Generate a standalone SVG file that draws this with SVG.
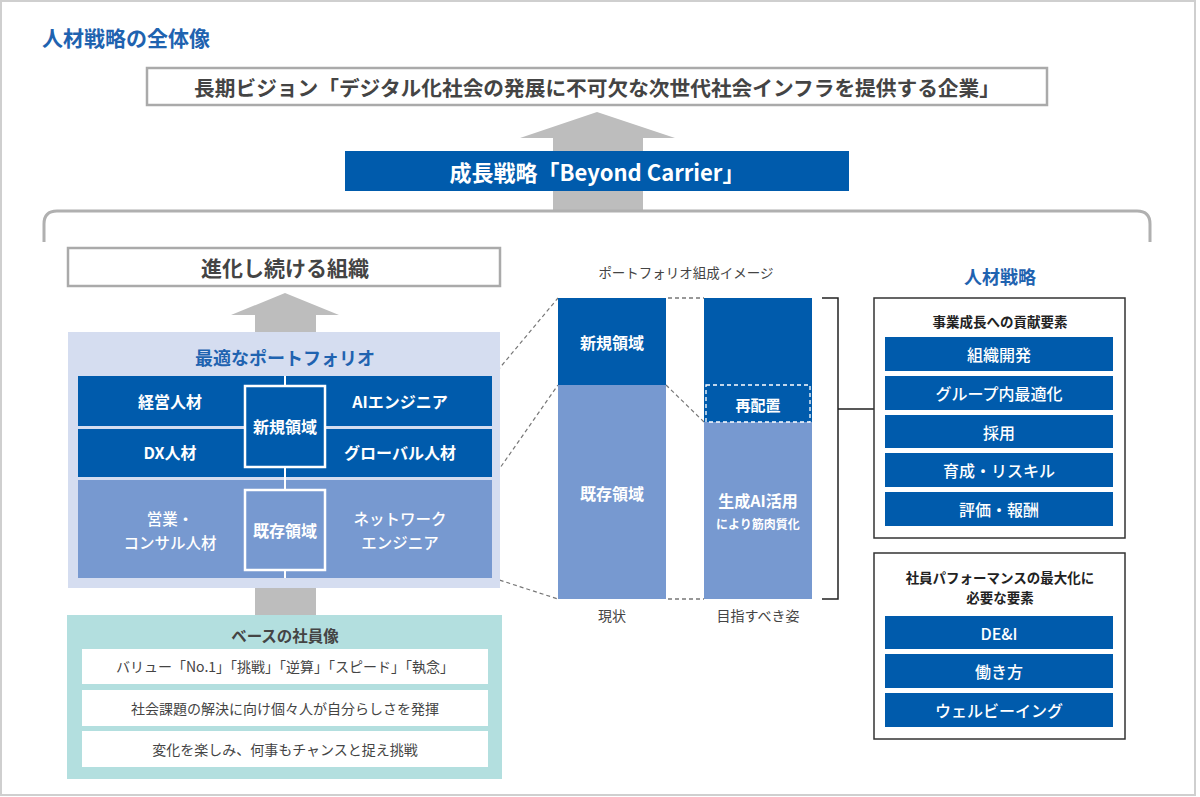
<svg xmlns="http://www.w3.org/2000/svg" width="1200" height="797" viewBox="0 0 1200 797">
<style>
text{font-family:"Noto Sans CJK JP","Noto Sans",sans-serif;text-anchor:middle;dominant-baseline:central}
.b{font-weight:bold}
.w{fill:#fff}
.g{fill:#444}
.bl{fill:#1f63b0}
.dk{fill:#005bac}
.lt{fill:#7799d0}
.arrow{fill:#bdbdbd}
.dash{stroke:#777;stroke-width:1.2;stroke-dasharray:4 3;fill:none}
.dashk{stroke:#333;stroke-width:1.2;stroke-dasharray:4 3;fill:none}
</style>
<rect x="1" y="1" width="1194" height="794" fill="#fff" stroke="#cfcfcf" stroke-width="2"/>
<text x="42" y="37" class="b bl" style="text-anchor:start;font-size:21px">人材戦略の全体像</text>

<g id="vision">
<rect x="147" y="68" width="900" height="37" fill="#fff" stroke="#aaa" stroke-width="2.5"/>
<text x="597" y="87" class="b g" style="font-size:20.7px">長期ビジョン「デジタル化社会の発展に不可欠な次世代社会インフラを提供する企業」</text>
</g>

<g id="connectors">
<polygon class="arrow" points="597,112 675,138 643,138 643,212 553,212 553,138 520,138"/>
<path d="M44,242 V224 Q44,211 57,211 H1137 Q1150,211 1150,224 V242" fill="none" stroke="#b0b0b0" stroke-width="3"/>
<polygon class="arrow" points="285,293 339,315 316,315 316,333 255,333 255,315 231,315"/>
<rect class="arrow" x="255" y="588" width="61" height="28"/>
<line class="dash" x1="493" y1="376" x2="558" y2="298"/>
<line class="dash" x1="493" y1="478" x2="558" y2="385"/>
<line class="dash" x1="493" y1="578" x2="558" y2="599"/>
<line class="dash" x1="666" y1="385" x2="704" y2="422"/>
<line class="dashk" x1="668" y1="298" x2="704" y2="298"/>
<line class="dashk" x1="668" y1="599" x2="704" y2="599"/>
<path d="M822,298 H838 V599 H822 M838,409 H874" fill="none" stroke="#222" stroke-width="1.5"/>
</g>

<g id="growth">
<rect x="345" y="151" width="504" height="40" class="dk"/>
<text x="597" y="171" class="b w" style="font-size:22px">成長戦略「Beyond Carrier」</text>
</g>

<g id="org">
<rect x="68" y="248" width="432" height="38" fill="#fff" stroke="#aaa" stroke-width="2.5"/>
<text x="285" y="267" class="b g" style="font-size:21px">進化し続ける組織</text>
</g>

<g id="portfolio">
<rect x="68" y="332" width="432" height="256" fill="#d5ddf0"/>
<text x="285" y="357" class="b bl" style="font-size:18px">最適なポートフォリオ</text>
<rect x="78" y="376" width="414" height="50" class="dk"/>
<rect x="78" y="429" width="414" height="48" class="dk"/>
<rect x="78" y="480" width="414" height="98" class="lt"/>
<line x1="285" y1="376" x2="285" y2="578" stroke="#fff" stroke-width="2"/>
<rect x="245" y="386" width="80" height="81" class="dk" stroke="#fff" stroke-width="2.5"/>
<rect x="245" y="490" width="80" height="80" class="lt" stroke="#fff" stroke-width="2.5"/>
<text x="170" y="401" class="b w" style="font-size:16px">経営人材</text>
<text x="400" y="401" class="b w" style="font-size:16px">AIエンジニア</text>
<text x="170" y="452" class="b w" style="font-size:16px">DX人材</text>
<text x="400" y="452" class="b w" style="font-size:16px">グローバル人材</text>
<text x="285" y="426" class="b w" style="font-size:16px">新規領域</text>
<text x="170" y="518" class="w" style="font-size:15.5px;font-weight:500">営業・</text>
<text x="170" y="542" class="w" style="font-size:15.5px;font-weight:500">コンサル人材</text>
<text x="400" y="518" class="w" style="font-size:15.5px;font-weight:500">ネットワーク</text>
<text x="400" y="542" class="w" style="font-size:15.5px;font-weight:500">エンジニア</text>
<text x="285" y="530" class="b w" style="font-size:16px">既存領域</text>
</g>

<g id="base">
<rect x="67" y="615" width="435" height="164" fill="#b3dfdf"/>
<text x="285" y="635" class="b g" style="font-size:15.5px">ベースの社員像</text>
<rect x="82" y="649" width="406" height="35" fill="#fff"/>
<rect x="82" y="690" width="406" height="36" fill="#fff"/>
<rect x="82" y="731" width="406" height="36" fill="#fff"/>
<text x="285" y="666" class="g" style="font-size:14px">バリュー「No.1」「挑戦」「逆算」「スピード」「執念」</text>
<text x="285" y="708" class="g" style="font-size:14px">社会課題の解決に向け個々人が自分らしさを発揮</text>
<text x="285" y="749" class="g" style="font-size:14px">変化を楽しみ、何事もチャンスと捉え挑戦</text>
</g>

<g id="image">
<text x="686" y="272" class="g" style="font-size:13.5px">ポートフォリオ組成イメージ</text>
<rect x="558" y="298" width="108" height="87" class="dk"/>
<rect x="558" y="385" width="108" height="214" class="lt"/>
<text x="612" y="342" class="b w" style="font-size:16px">新規領域</text>
<text x="612" y="493" class="b w" style="font-size:16px">既存領域</text>
<rect x="704" y="298" width="108" height="124" class="dk"/>
<rect x="704" y="422" width="108" height="177" class="lt"/>
<rect x="706" y="385" width="104" height="37" fill="none" stroke="#fff" stroke-width="1.3" stroke-dasharray="4 3"/>
<text x="758" y="404" class="b w" style="font-size:15px">再配置</text>
<text x="758" y="500" class="b w" style="font-size:16px">生成AI活用</text>
<text x="758" y="523" class="b w" style="font-size:12px">により筋肉質化</text>
<text x="612" y="615" class="g" style="font-size:14px">現状</text>
<text x="758" y="615" class="g" style="font-size:14px">目指すべき姿</text>
</g>

<g id="strategy">
<text x="1000" y="276" class="b bl" style="font-size:18px">人材戦略</text>
<rect x="874" y="298" width="251" height="240" fill="#fff" stroke="#333" stroke-width="1.5"/>
<text x="1000" y="321" class="b" style="font-size:13.5px;fill:#222">事業成長への貢献要素</text>
<rect x="885" y="337" width="228" height="34" class="dk"/>
<rect x="885" y="376" width="228" height="34" class="dk"/>
<rect x="885" y="415" width="228" height="33" class="dk"/>
<rect x="885" y="453" width="228" height="34" class="dk"/>
<rect x="885" y="492" width="228" height="34" class="dk"/>
<text x="999" y="354" class="w" style="font-size:16px;font-weight:500">組織開発</text>
<text x="999" y="393" class="w" style="font-size:16px;font-weight:500">グループ内最適化</text>
<text x="999" y="431.5" class="w" style="font-size:16px;font-weight:500">採用</text>
<text x="999" y="470" class="w" style="font-size:16px;font-weight:500">育成・リスキル</text>
<text x="999" y="509" class="w" style="font-size:16px;font-weight:500">評価・報酬</text>
</g>

<g id="performance">
<rect x="874" y="553" width="251" height="186" fill="#fff" stroke="#333" stroke-width="1.5"/>
<text x="1000" y="577" class="b" style="font-size:13.5px;fill:#222">社員パフォーマンスの最大化に</text>
<text x="1000" y="597" class="b" style="font-size:13.5px;fill:#222">必要な要素</text>
<rect x="885" y="616" width="228" height="33" class="dk"/>
<rect x="885" y="654" width="228" height="34" class="dk"/>
<rect x="885" y="693" width="228" height="34" class="dk"/>
<text x="999" y="632.5" class="w" style="font-size:16px;font-weight:500">DE&amp;I</text>
<text x="999" y="671" class="w" style="font-size:16px;font-weight:500">働き方</text>
<text x="999" y="710" class="w" style="font-size:16px;font-weight:500">ウェルビーイング</text>
</g>
</svg>
